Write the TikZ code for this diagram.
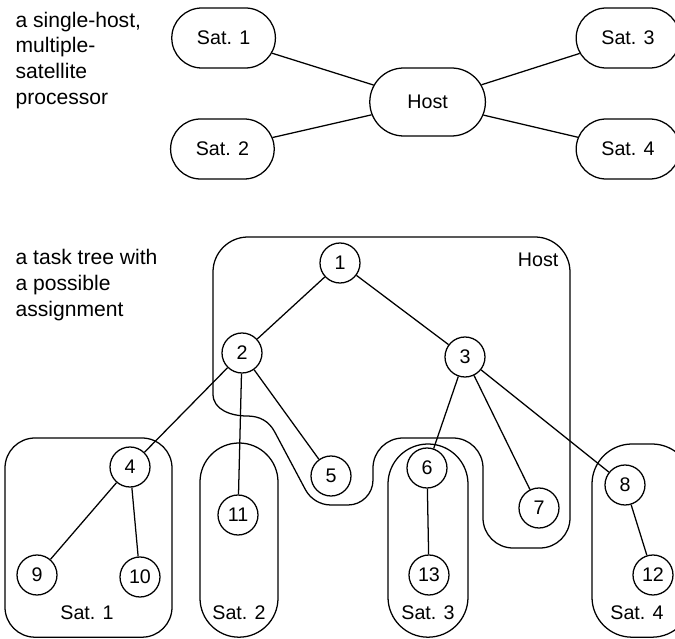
\documentclass[tikz,border=0pt]{standalone}
\usepackage{fontspec}
\setmainfont{Liberation Sans}
\usepackage{tikz}
\usetikzlibrary{shapes.misc}
\tikzset{every node/.style={font=\fontsize{14}{18}\selectfont},
  proc/.style={draw, rounded rectangle, minimum width=2.825cm, minimum height=1.5cm},
  task/.style={draw, circle, minimum size=1cm, inner sep=0pt},
  note/.style={align=left, anchor=north west, inner sep=0pt, font=\fontsize{15}{18.4}\selectfont}}

\begin{document}
\begin{tikzpicture}[line width=0.9pt]
            \useasboundingbox (0,0) rectangle (16.875,15.95);
            % processor
            \node[note] (txt_proc) at (0.375,15.67) {a single-host,\\multiple-\\satellite\\processor};
            \node[proc] (sat_1) at (5.59,15) {Sat. 1};
            \node[proc] (sat_2) at (5.56,12.225) {Sat. 2};
            \node[proc] (sat_3) at (15.7,15) {Sat. 3};
            \node[proc] (sat_4) at (15.7,12.225) {Sat. 4};
            \node[proc, minimum width=3.125cm, minimum height=1.7cm] (host) at (10.69,13.4) {Host};
            \draw (host) edge (sat_1) (host) edge (sat_2)
            (host) edge (sat_3) (host) edge (sat_4);
            % task tree
            \node[note] (txt_tree) at (0.375,9.74) {a task tree with\\a possible\\assignment};
            \draw (5.325,9.15) arc[start angle=180, end angle=90, radius=0.875]
            -- (13.375,10.025) arc[start angle=90, end angle=0, radius=0.875]
            -- (14.25,3) arc[start angle=0, end angle=-90, radius=0.75]
            -- (12.825,2.25) arc[start angle=270, end angle=180, radius=0.75]
            -- (12.075,4.25) arc[start angle=0, end angle=90, radius=0.75]
            -- (10.075,5) arc[start angle=90, end angle=180, radius=0.75]
            -- (9.325,3.95) arc[start angle=0, end angle=-90, radius=0.625]
            -- (8.275,3.325) arc[start angle=270, end angle=208, radius=0.725]
            -- ++(118:1.63) to[out=118, in=0] (6.175,5.55) to[out=180, in=-90] (5.325,6.1) -- cycle;
            \node[anchor=east, inner sep=0pt] (lbl_host) at (13.975,9.45) {Host};
            \draw[rounded corners=0.75cm] (0.125,0.02) rectangle (4.3,5);
            \draw[rounded corners=0.975cm] (5,0.02) rectangle (6.95,4.875);
            \draw[rounded corners=1cm] (9.7,0.02) rectangle (11.7,4.85);
            \draw[rounded corners=1cm] (14.8,0.02) rectangle (17.3,4.85);
            \node (lbl_sat_1) at (2.175,0.625) {Sat. 1};
            \node (lbl_sat_2) at (5.975,0.625) {Sat. 2};
            \node (lbl_sat_3) at (10.7,0.625) {Sat. 3};
            \node (lbl_sat_4) at (15.925,0.625) {Sat. 4};
            \node[task] (t1) at (8.5,9.375) {1};
            \node[task] (t2) at (6.05,7.125) {2};
            \node[task] (t3) at (11.625,7.025) {3};
            \node[task] (t4) at (3.25,4.275) {4};
            \node[task] (t5) at (8.275,4.05) {5};
            \node[task] (t6) at (10.675,4.25) {6};
            \node[task] (t7) at (13.475,3.25) {7};
            \node[task] (t8) at (15.625,3.825) {8};
            \node[task] (t9) at (0.925,1.575) {9};
            \node[task] (t10) at (3.5,1.525) {10};
            \node[task] (t11) at (5.95,3.075) {11};
            \node[task] (t12) at (16.325,1.575) {12};
            \node[task] (t13) at (10.725,1.575) {13};
            \draw (t1) edge (t2) (t1) edge (t3)
            (t2) edge (t4) (t2) edge (t11) (t2) edge (t5)
            (t3) edge (t6) (t3) edge (t7) (t3) edge (t8)
            (t4) edge (t9) (t4) edge (t10)
            (t6) edge (t13) (t8) edge (t12);
      \end{tikzpicture}
\end{document}
